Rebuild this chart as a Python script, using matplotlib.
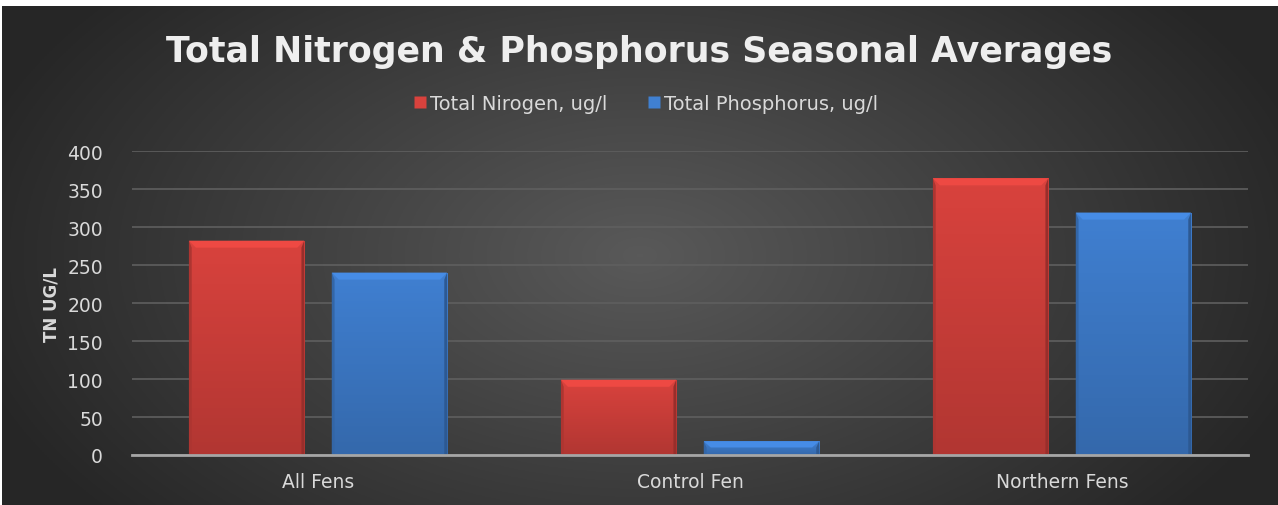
import numpy as np
import matplotlib.pyplot as plt
from matplotlib.patches import Polygon
from matplotlib.lines import Line2D

categories = ['All Fens', 'Control Fen', 'Northern Fens']
nitrogen = [282, 99, 364]
phosphorus = [240, 18, 319]
series_names = ['Total Nirogen, ug/l', 'Total Phosphorus, ug/l']
y_ticks = [0, 50, 100, 150, 200, 250, 300, 350, 400]

W, H = 1278, 506
plt.rcParams['font.family'] = ['DejaVu Sans']
text_col = '#d9d9d9'

fig = plt.figure(figsize=(W / 100, H / 100), dpi=100, facecolor='white')

# radial dark gradient background, small white margin top/left like the source
bg = fig.add_axes([2 / W, 0, 1 - 2 / W, 499 / H])
yy, xx = np.mgrid[0:1:300j, 0:1:700j]
r = np.sqrt(((xx - 0.5) / 0.6) ** 2 + ((yy - 0.5) / 0.9) ** 2)
shade = np.clip(0.35 - 0.22 * r, 0.15, 1)
bg.imshow(np.dstack([shade] * 3), aspect='auto', extent=[0, 1, 0, 1])
bg.axis('off')

ax = fig.add_axes([132 / W, 1 - 456 / H, (1248 - 132) / W, (456 - 152) / H])
ax.patch.set_alpha(0)

x = np.arange(len(categories))
width = 0.31
offset = 0.192
px_x = 1 / 372.0   # data units per pixel, x
px_y = 1 / 0.76    # data units per pixel, y


def mix(c, k):
    c = np.array(c)
    return np.clip(c * k, 0, 1)


def beveled_bars(xs, vals, base):
    base = np.array(base)
    bars = ax.bar(xs, vals, width, color='none', edgecolor='none', zorder=3)
    for b in bars:
        x0, w, h = b.get_x(), b.get_width(), b.get_height()
        t = np.linspace(0, 1, 64)[:, None]
        top, bot = mix(base, 1.0), mix(base, 0.82)
        img = (bot[None, None, :] * (1 - t[..., None]) + top[None, None, :] * t[..., None])
        img = np.repeat(img, 2, axis=1)
        im = ax.imshow(img, extent=[x0, x0 + w, 0, h], origin='lower',
                       aspect='auto', zorder=3)
        im.set_clip_path(b)
        dx, dy = 7 * px_x, 7 * px_y
        dy = min(dy, h * 0.45)
        # top bevel
        ax.add_patch(Polygon([(x0, h), (x0 + w, h), (x0 + w - dx, h - dy),
                              (x0 + dx, h - dy)], closed=True,
                             facecolor=mix(base, 1.1), edgecolor='none', zorder=4))
        # side edges
        ax.add_patch(Polygon([(x0, 0), (x0, h), (x0 + dx * 0.4, h - dy),
                              (x0 + dx * 0.4, 0)], closed=True,
                             facecolor=mix(base, 0.8), edgecolor='none', zorder=4))
        ax.add_patch(Polygon([(x0 + w, 0), (x0 + w, h), (x0 + w - dx * 0.4, h - dy),
                              (x0 + w - dx * 0.4, 0)], closed=True,
                             facecolor=mix(base, 0.7), edgecolor='none', zorder=4))
    return bars


red = (0.85, 0.26, 0.24)
blue = (0.25, 0.50, 0.82)
beveled_bars(x - offset, nitrogen, red)
beveled_bars(x + offset, phosphorus, blue)

ax.set_xlim(-0.5, 2.5)
ax.set_ylim(0, 400)
ax.set_yticks(y_ticks)
ax.set_xticks(x)
ax.set_xticklabels(categories)
ax.yaxis.grid(True, color='#5f5f5f', linewidth=1.2, zorder=0)
ax.set_axisbelow(True)
for s in ['top', 'right', 'left']:
    ax.spines[s].set_visible(False)
ax.spines['bottom'].set_color('#a6a6a6')
ax.spines['bottom'].set_linewidth(2)
ax.spines['bottom'].set_zorder(5)
ax.tick_params(length=0, colors=text_col, labelsize=13.5)
ax.tick_params(axis='y', pad=21)
ax.tick_params(axis='x', pad=12)

ax.set_ylabel('TN UG/L', color=text_col, fontsize=12, fontweight='bold', labelpad=5)

fig.text(0.5, 1 - 52 / H, 'Total Nitrogen & Phosphorus Seasonal Averages',
         ha='center', va='center', color='#eeeeee', fontsize=25, fontweight='bold')

handles = [Line2D([], [], marker='s', linestyle='none', markersize=8,
                  markerfacecolor=c, markeredgecolor='none') for c in (red, blue)]
fig.legend(handles, series_names, loc='center', ncol=2, frameon=False,
           bbox_to_anchor=(645 / W, 1 - 104 / H), fontsize=14, labelcolor=text_col,
           handletextpad=0.1, columnspacing=2.0, handlelength=0.8)

fig.savefig('out.png', dpi=100, facecolor='white')
